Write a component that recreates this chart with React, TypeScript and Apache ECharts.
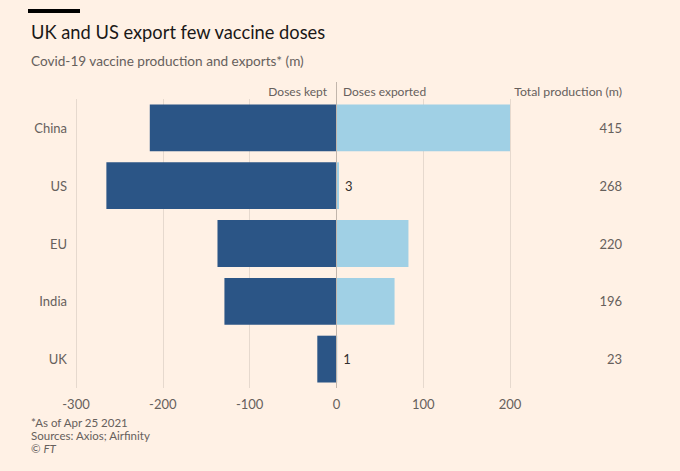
import React, { useEffect, useRef } from "react";
import * as echarts from "echarts";

const countries = ["China", "US", "EU", "India", "UK"];
const dosesKept = [-215, -265, -137, -129, -22];
const dosesExported = [200, 3, 83, 67, 1];
const totalProduction = ["415", "268", "220", "196", "23"];
const xTicks = { min: -300, max: 200, interval: 100 };

const FONT = "Lato, 'Open Sans', sans-serif";
const GREY = "#66605C";

export default function App() {
  const ref = useRef<HTMLDivElement>(null);
  useEffect(() => {
    document.body.style.margin = "0";
    const chart = echarts.init(ref.current!, null, { renderer: "svg" });
    chart.setOption({
      animation: false,
      backgroundColor: "#FFF1E5",
      textStyle: { fontFamily: FONT },
      grid: { left: 76, right: 170, top: 99, bottom: 83, containLabel: false },
      xAxis: {
        type: "value",
        min: xTicks.min,
        max: xTicks.max,
        interval: xTicks.interval,
        axisLine: { show: false },
        axisTick: { show: false },
        splitLine: { show: true, lineStyle: { color: "#E6D9CE", width: 1 } },
        axisLabel: { color: GREY, fontSize: 13, margin: 9, fontFamily: FONT },
      },
      yAxis: [
        {
          type: "category",
          data: countries,
          inverse: true,
          axisLine: { show: false },
          axisTick: { show: false },
          splitLine: { show: false },
          axisLabel: { color: GREY, fontSize: 13, margin: 9, fontFamily: FONT },
        },
        {
          type: "category",
          data: totalProduction,
          inverse: true,
          position: "right",
          axisLine: { show: false },
          axisTick: { show: false },
          splitLine: { show: false },
          axisLabel: { color: GREY, fontSize: 13, margin: 112, align: "right", fontFamily: FONT },
        },
      ],
      series: [
        {
          name: "Doses kept",
          type: "bar",
          stack: "doses",
          data: dosesKept,
          barCategoryGap: "19%",
          itemStyle: { color: "#2B5586" },
          markLine: {
            silent: true,
            symbol: "none",
            label: { show: false },
            lineStyle: { color: "#C2B6AC", width: 1, type: "solid" },
            data: [{ xAxis: 0 }],
          },
        },
        {
          name: "Doses exported",
          type: "bar",
          stack: "doses",
          data: dosesExported,
          barCategoryGap: "19%",
          itemStyle: { color: "#A0D0E5" },
          label: {
            show: true,
            position: "right",
            color: "#33302E",
            fontSize: 13,
            distance: 6,
            fontFamily: FONT,
            formatter: (p: any) => (p.value < 10 ? String(p.value) : ""),
          },
        },
      ],
      graphic: [
        { type: "rect", left: 28, top: 9, shape: { width: 52, height: 4 }, style: { fill: "#000" } },
        {
          type: "text",
          x: 31,
          y: 32,
          style: { text: "UK and US export few vaccine doses", fontSize: 18.3, fill: "#1A1817", fontFamily: FONT, verticalAlign: "middle" },
        },
        {
          type: "text",
          x: 31,
          y: 61,
          style: { text: "Covid-19 vaccine production and exports* (m)", fontSize: 13.6, fill: GREY, fontFamily: FONT, verticalAlign: "middle" },
        },
        {
          type: "line",
          shape: { x1: 336.5, y1: 82, x2: 336.5, y2: 99 },
          style: { stroke: "#C2B6AC", lineWidth: 1 },
        },
        {
          type: "text",
          x: 327,
          y: 91,
          style: { text: "Doses kept", fontSize: 12, fill: GREY, fontFamily: FONT, align: "right", verticalAlign: "middle" },
        },
        {
          type: "text",
          x: 343,
          y: 91,
          style: { text: "Doses exported", fontSize: 12, fill: GREY, fontFamily: FONT, align: "left", verticalAlign: "middle" },
        },
        {
          type: "text",
          x: 622,
          y: 91,
          style: { text: "Total production (m)", fontSize: 12.3, fill: GREY, fontFamily: FONT, align: "right", verticalAlign: "middle" },
        },
        {
          type: "text",
          x: 31,
          y: 422,
          style: { text: "*As of Apr 25 2021", fontSize: 11.5, fill: GREY, fontFamily: FONT, verticalAlign: "middle" },
        },
        {
          type: "text",
          x: 31,
          y: 435,
          style: { text: "Sources: Axios; Airfinity", fontSize: 11.5, fill: GREY, fontFamily: FONT, verticalAlign: "middle" },
        },
        {
          type: "text",
          x: 31,
          y: 448,
          style: {
            text: "© {i|FT}",
            fontSize: 11.5,
            fill: GREY,
            fontFamily: FONT,
            verticalAlign: "middle",
            rich: { i: { fontStyle: "italic", fontSize: 11.5, fill: GREY, fontFamily: FONT } },
          },
        },
      ],
    });
    return () => chart.dispose();
  }, []);
  return <div ref={ref} style={{ width: 680, height: 471 }} />;
}
